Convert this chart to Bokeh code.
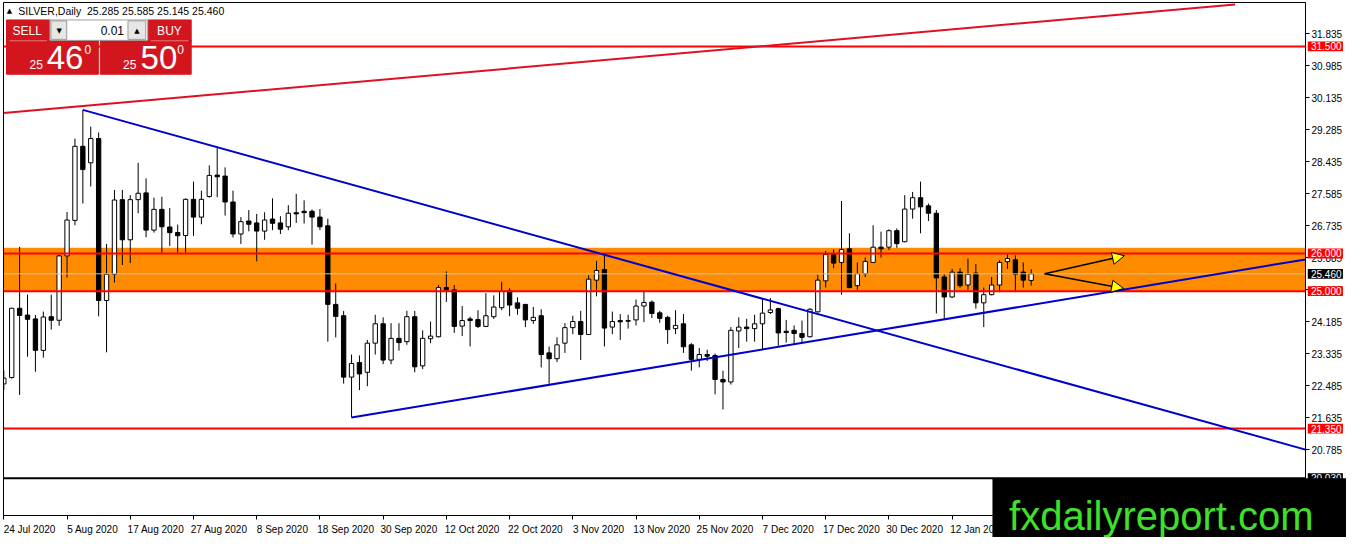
from bokeh.plotting import figure
from bokeh.models import (Range1d, FixedTicker, PrintfTickFormatter, BoxAnnotation,
                          Label, Arrow, NormalHead, ColumnDataSource, LinearAxis)
from bokeh.core.properties import value
from bokeh.embed import file_html
from bokeh.resources import INLINE

# ---------------- data (SILVER, Daily) ----------------
opens = [22.536, 22.706, 24.545, 24.365, 24.262, 23.427, 24.321, 24.226, 25.936, 26.879,
         28.847, 28.409, 29.053, 24.751, 25.447, 27.430, 26.364, 27.430, 27.610, 26.621,
         27.172, 26.704, 26.557, 26.477, 27.438, 26.966, 27.515, 28.082, 28.056, 27.368,
         26.518, 26.863, 26.812, 26.595, 26.915, 26.812, 26.709, 27.085, 27.121, 27.121,
         26.966, 26.735, 24.648, 24.347, 22.716, 23.102, 22.845, 23.618, 24.133, 23.169,
         23.746, 23.659, 24.321, 23.015, 23.736, 23.788, 25.094, 25.034, 24.071, 24.262,
         24.244, 24.063, 24.321, 24.560, 25.009, 24.689, 24.648, 24.218, 24.347, 23.360,
         23.205, 23.618, 24.030, 24.192, 23.849, 25.292, 25.575, 24.045, 24.218, 24.200,
         24.236, 24.604, 24.707, 24.424, 24.303, 24.004, 24.132, 23.574, 23.187, 23.316,
         23.291, 22.654, 22.587, 23.942, 24.045, 24.004, 24.132, 24.432, 24.535, 23.934,
         23.960, 23.875, 23.788, 24.450, 25.274, 25.977, 25.763, 26.124, 25.145, 25.462,
         25.763, 26.168, 26.168, 26.606, 26.312, 27.180, 27.482, 27.265, 27.069, 25.377,
         24.844, 25.506, 25.163, 25.480, 24.689, 24.906, 25.163, 25.781, 25.833, 25.506,
         25.285]
highs = [22.886, 24.560, 26.176, 24.906, 24.365, 24.457, 24.906, 25.962, 27.103, 29.053,
         29.815, 29.370, 29.215, 26.253, 27.688, 27.688, 27.549, 28.409, 27.997, 27.482,
         27.507, 27.206, 26.768, 27.464, 27.909, 27.670, 28.339, 28.855, 28.288, 27.670,
         26.966, 27.154, 27.051, 27.095, 27.464, 26.992, 27.283, 27.585, 27.412, 27.172,
         27.180, 26.923, 25.204, 24.475, 23.316, 23.291, 23.703, 24.372, 24.303, 24.148,
         24.148, 24.475, 24.475, 23.960, 24.192, 25.163, 25.524, 25.163, 24.604, 24.321,
         24.493, 24.947, 24.888, 25.248, 25.076, 24.836, 24.660, 24.578, 24.519, 23.530,
         23.772, 24.148, 24.347, 24.475, 25.421, 25.807, 25.951, 24.457, 24.390, 24.372,
         24.777, 24.991, 24.751, 24.475, 24.347, 24.493, 24.390, 23.618, 23.489, 23.445,
         23.342, 22.886, 24.045, 24.303, 24.262, 24.372, 24.818, 24.818, 24.560, 24.236,
         24.089, 24.218, 24.545, 25.436, 26.065, 26.106, 27.394, 26.536, 25.763, 25.892,
         26.750, 26.580, 26.639, 26.665, 27.549, 27.636, 27.909, 27.327, 27.154, 25.462,
         25.591, 25.609, 25.866, 25.720, 25.094, 25.377, 25.823, 25.977, 25.951, 25.763,
         25.585]
lows = [22.371, 22.672, 22.242, 23.257, 22.860, 23.231, 23.978, 24.081, 25.359, 26.750,
        27.327, 27.780, 24.329, 23.375, 25.230, 25.694, 25.745, 27.069, 26.433, 26.554,
        26.021, 26.201, 26.021, 26.021, 26.467, 26.776, 27.482, 27.497, 27.008, 26.425,
        26.253, 26.588, 25.789, 26.364, 26.621, 26.518, 26.621, 26.812, 26.794, 26.235,
        26.621, 23.659, 23.772, 22.543, 21.642, 22.371, 22.474, 23.316, 23.059, 23.059,
        23.419, 23.574, 22.845, 22.930, 23.618, 23.772, 24.715, 23.890, 23.806, 23.530,
        24.019, 24.045, 24.262, 24.493, 24.334, 24.372, 24.045, 24.132, 22.974, 22.543,
        23.118, 23.360, 23.857, 23.169, 23.832, 24.862, 23.530, 23.857, 23.703, 24.004,
        24.089, 24.174, 24.287, 24.158, 23.600, 23.857, 23.360, 22.886, 22.974, 23.144,
        22.260, 21.856, 22.518, 23.489, 23.659, 23.659, 23.445, 24.390, 23.548, 23.633,
        23.600, 23.633, 23.772, 24.432, 25.094, 25.609, 24.906, 25.076, 25.034, 25.377,
        25.745, 25.892, 26.091, 26.150, 26.297, 26.923, 26.536, 26.863, 24.406, 24.262,
        24.818, 25.094, 25.034, 24.535, 24.045, 24.888, 24.973, 25.591, 24.973, 25.094,
        25.145]
closes = [22.690, 24.545, 24.354, 24.251, 23.427, 24.313, 24.226, 25.936, 26.889, 28.847,
          28.229, 29.053, 24.751, 25.447, 27.420, 26.364, 27.430, 27.600, 26.621, 27.172,
          26.709, 26.554, 26.472, 27.438, 26.966, 27.438, 28.074, 28.038, 27.368, 26.518,
          26.845, 26.776, 26.595, 26.889, 26.802, 26.647, 27.069, 27.051, 27.085, 26.966,
          26.709, 24.648, 24.329, 22.716, 23.077, 22.801, 23.618, 24.133, 23.169, 23.746,
          23.633, 24.321, 22.989, 23.746, 23.806, 25.094, 25.042, 24.063, 24.218, 24.218,
          24.063, 24.347, 24.578, 24.991, 24.630, 24.545, 24.236, 24.303, 23.316, 23.205,
          23.574, 24.030, 24.192, 23.849, 25.318, 25.550, 24.019, 24.192, 24.184, 24.218,
          24.604, 24.699, 24.406, 24.277, 23.978, 24.089, 23.522, 23.187, 23.316, 23.272,
          22.654, 22.587, 23.960, 24.045, 24.004, 24.132, 24.416, 24.501, 23.890, 23.900,
          23.875, 23.772, 24.519, 25.292, 25.977, 25.745, 26.106, 25.094, 25.462, 25.789,
          26.168, 26.124, 26.606, 26.261, 27.180, 27.482, 27.239, 27.069, 25.351, 24.844,
          25.506, 25.145, 25.447, 24.689, 24.906, 25.163, 25.763, 25.866, 25.447, 25.292,
          25.460]

date_labels = ["24 Jul 2020", "5 Aug 2020", "17 Aug 2020", "27 Aug 2020", "8 Sep 2020",
               "18 Sep 2020", "30 Sep 2020", "12 Oct 2020", "22 Oct 2020", "3 Nov 2020",
               "13 Nov 2020", "25 Nov 2020", "7 Dec 2020", "17 Dec 2020", "30 Dec 2020",
               "12 Jan 2021", "22 Jan 2021"]
price_ticks = [19.935, 20.785, 21.635, 22.485, 23.335, 24.185, 25.035, 25.885,
               26.735, 27.585, 28.435, 29.285, 30.135, 30.985, 31.835]

zone_low, zone_high = 24.98, 26.15
red_levels = [31.500, 26.000, 25.000, 21.350]
red_level_labels = ["31.500", "26.000", "25.000", "21.350"]
bid_price = 25.460
black_level = 20.030

red_trend_x = [-0.04, 155.8]
red_trend_y = [29.730, 32.616]
blue_down_x = [10, 164.71]
blue_down_y = [29.815, 20.791]
blue_up_x = [44, 164.71]
blue_up_y = [21.642, 25.841]
arrow_start_x, arrow_start_y = 131.7, 25.46
arrow_end_x = [141.8, 141.7]
arrow_end_y = [25.94, 25.07]

title_text = "SILVER,Daily\u00a0 25.285 25.585 25.145 25.460"

# ---------------- geometry of the chart window ----------------
X_LEFT, X_RIGHT = -0.04, 164.71      # chart border / price axis position (bars)
Y_BOTTOM, Y_TOP = 19.04, 32.667      # chart border / date axis position (price)
FONT = "Liberation Sans"

N = len(opens)
src = ColumnDataSource(dict(
    x=list(range(N)), high=highs, low=lows,
    top=[max(o, c) for o, c in zip(opens, closes)],
    bottom=[min(o, c) for o, c in zip(opens, closes)],
    fill=["white" if c >= o else "black" for o, c in zip(opens, closes)],
))

p = figure(width=1346, height=537, x_range=Range1d(-0.42, 169.90),
           y_range=Range1d(18.456, 32.720), output_backend="svg",
           toolbar_location=None, x_axis_location=None, y_axis_location=None,
           min_border=0, background_fill_color="white",
           border_fill_color="white", outline_line_color=None)
p.xgrid.visible = False
p.ygrid.visible = False

# axes (library axes, fixed at the chart window edges)
yax = LinearAxis(fixed_location=X_RIGHT, bounds=(Y_BOTTOM, Y_TOP),
                 ticker=FixedTicker(ticks=price_ticks),
                 formatter=PrintfTickFormatter(format="%.3f"))
yax.major_tick_out = 4
yax.major_tick_in = 0
yax.minor_tick_out = 0
yax.minor_tick_in = 0
yax.major_label_standoff = 2
label_ticks = [8 * k + 3.25 for k in range(len(date_labels))]
mark_ticks = [8 * k for k in range(len(date_labels))]
xax = LinearAxis(fixed_location=Y_BOTTOM, bounds=(X_LEFT, X_RIGHT),
                 ticker=FixedTicker(ticks=label_ticks, minor_ticks=mark_ticks))
xax.major_label_overrides = {t: s for t, s in zip(label_ticks, date_labels)}
xax.major_tick_out = 0
xax.major_tick_in = 0
xax.minor_tick_out = 4
xax.minor_tick_in = 0
xax.major_label_standoff = 4
for ax in (xax, yax):
    ax.axis_line_color = "black"
    ax.major_tick_line_color = "black"
    ax.minor_tick_line_color = "black"
    ax.major_label_text_font = FONT
    ax.major_label_text_font_size = "10px"
    ax.major_label_text_color = "black"
p.add_layout(yax, "right")
p.add_layout(xax, "below")

# background zone
p.quad(left=[X_LEFT], right=[X_RIGHT], bottom=[zone_low], top=[zone_high],
       fill_color="#ff8c00", line_color=None)

# candles
p.segment(x0="x", y0="high", x1="x", y1="low", source=src, line_color="black", line_width=1)
p.vbar(x="x", width=0.55, top="top", bottom="bottom", fill_color="fill",
       line_color="black", line_width=1, source=src)

# horizontal levels & trend lines
p.segment(x0=[X_LEFT], x1=[X_RIGHT], y0=[bid_price], y1=[bid_price],
          line_color="#c8c8c8", line_width=1)
p.segment(x0=[X_LEFT] * len(red_levels), x1=[X_RIGHT] * len(red_levels),
          y0=red_levels, y1=red_levels, line_color="#ff0000", line_width=2)
p.segment(x0=[X_LEFT], x1=[X_RIGHT], y0=[black_level], y1=[black_level],
          line_color="black", line_width=2)
p.line(red_trend_x, red_trend_y, line_color="#dd1122", line_width=2)
p.line(blue_down_x, blue_down_y, line_color="#0000cd", line_width=2)
p.line(blue_up_x, blue_up_y, line_color="#0000cd", line_width=2)

# mask left of the window and window border
p.quad(left=[-0.42], right=[X_LEFT], bottom=[18.456], top=[32.72],
       fill_color="white", line_color=None)
p.quad(left=[X_LEFT], right=[X_RIGHT], bottom=[Y_BOTTOM], top=[Y_TOP],
       fill_color=None, line_color="black", line_width=1)

# arrows
for ex, ey in zip(arrow_end_x, arrow_end_y):
    p.add_layout(Arrow(end=NormalHead(size=12, fill_color="#ffff00", line_color="black", line_width=1),
                       x_start=arrow_start_x, y_start=arrow_start_y, x_end=ex, y_end=ey,
                       line_color="black", line_width=1.5))

# ---------------- one-click trading panel ----------------
RED = "#d3161d"
p.quad(left=[0.34, 0.34, 12.21, 18.21], right=[11.96, 5.84, 23.71, 23.71],
       top=[31.662, 32.203, 31.662, 32.203], bottom=[30.761, 31.637, 30.761, 31.637],
       fill_color=RED, line_color=RED)
p.quad(left=[5.84], right=[18.21], top=[32.203], bottom=[31.662],
       fill_color="white", line_color="#a0a0a0")
p.quad(left=[5.96, 15.71], right=[7.96, 17.96], top=[32.178, 32.178], bottom=[31.688, 31.688],
       fill_color="#e6e6e6", line_color="#9a9a9a")
p.segment(x0=[0.71, 18.59], y0=[31.65, 31.65], x1=[5.46, 23.34], y1=[31.65, 31.65],
          line_color="#ee7777", line_width=1)
p.text(x=[2.96, 20.96], y=[31.92, 31.92], text=["SELL", "BUY"], text_color="white",
       text_font=value(FONT), text_font_size="12px", text_align="center", text_baseline="middle")
p.text(x=[15.21], y=[31.92], text=["0.01"], text_color="black", text_font=value(FONT),
       text_font_size="12px", text_align="right", text_baseline="middle")
p.text(x=[7.02, 16.84], y=[31.92, 31.92], text=["\u25bc", "\u25b2"], text_color="black",
       text_font=value("DejaVu Sans"), text_font_size="7px", text_align="center",
       text_baseline="middle")
p.text(x=[3.25, 15.09], y=[31.023, 31.023], text=["25", "25"], text_color="white",
       text_font=value(FONT), text_font_size="12px", text_align="left", text_baseline="middle")
p.text(x=[5.42, 17.30], y=[31.217, 31.217], text=["46", "50"], text_color="white",
       text_font=value(FONT), text_font_size="33px", text_align="left", text_baseline="middle")
p.text(x=[10.21, 21.96], y=[31.41, 31.41], text=["0", "0"], text_color="white",
       text_font=value(FONT), text_font_size="12px", text_align="left", text_baseline="middle")
# title
p.text(x=[0.71], y=[32.435], text=["\u25b2"], text_color="black", text_font=value("DejaVu Sans"),
       text_font_size="7px", text_align="center", text_baseline="middle")
p.text(x=[1.84], y=[32.435], text=[title_text], text_color="black", text_font=value(FONT),
       text_font_size="10.5px", text_align="left", text_baseline="middle")

# ---------------- price tags on the axis ----------------
def tag(price, text, color):
    p.add_layout(BoxAnnotation(left=165.0, right=169.45, bottom=price - 0.13, top=price + 0.13,
                               fill_color=color, fill_alpha=1.0, line_color=None))
    p.add_layout(Label(x=165.4, y=price, text=text, text_color="white", text_font=FONT,
                       text_font_size="10px", text_baseline="middle", text_align="left"))

for lv, lab in zip(red_levels, red_level_labels):
    tag(lv, lab, "#ff0000")
tag(bid_price, "25.460", "black")
tag(black_level, "20.030", "black")

# ---------------- watermark ----------------
p.add_layout(BoxAnnotation(left=125.1, right=175.0, top=20.03, bottom=17.0,
                           fill_color="black", fill_alpha=1.0, line_color=None))
p.add_layout(Label(x=127.2, y=19.04, text="fxdailyreport.com", text_color="#3fe02a",
                   text_font=FONT, text_font_size="40px", text_baseline="alphabetic",
                   text_align="left"))

open("out.html", "w").write(file_html(p, INLINE))
